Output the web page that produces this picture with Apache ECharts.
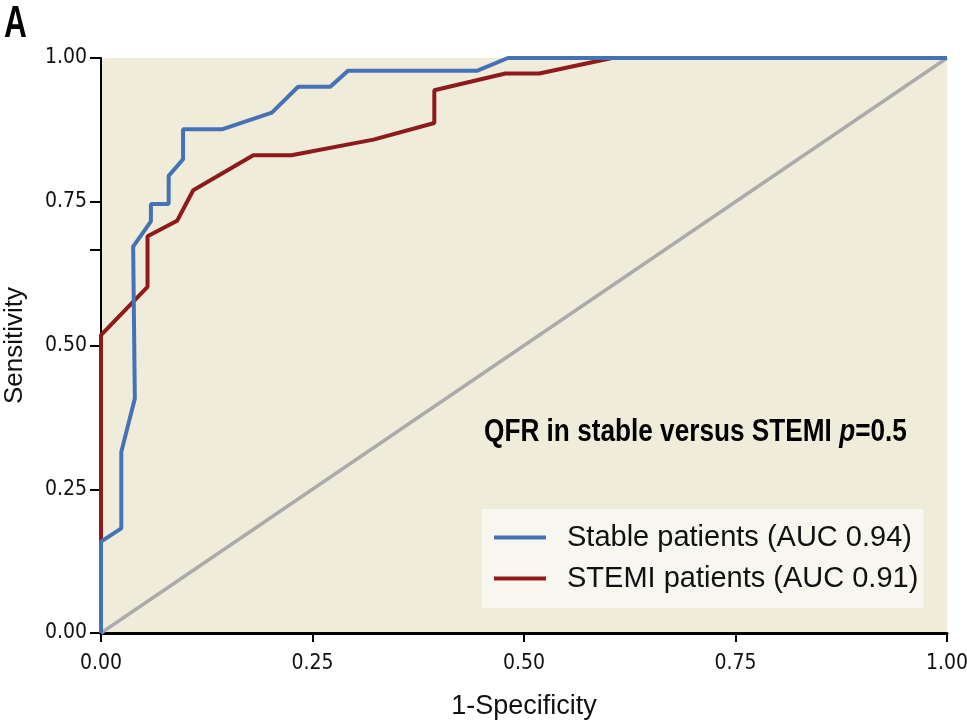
<!DOCTYPE html>
<html>
<head>
<meta charset="utf-8">
<script src="https://cdn.jsdelivr.net/npm/echarts@6/dist/echarts.min.js"></script>
<style>
html,body{margin:0;padding:0;background:#fff;}
#chart{width:967px;height:721px;}
</style>
</head>
<body>
<div id="chart"></div>
<script>
// Data
const stableX = [0, 0, 0.024, 0.024, 0.040, 0.038, 0.059, 0.059, 0.080, 0.080, 0.097, 0.097, 0.143, 0.202, 0.233, 0.271, 0.292, 0.445, 0.481, 1.0];
const stableY = [0, 0.159, 0.182, 0.315, 0.408, 0.672, 0.716, 0.746, 0.746, 0.795, 0.824, 0.876, 0.876, 0.905, 0.950, 0.950, 0.978, 0.978, 1.0, 1.0];
const stemiX = [0, 0, 0.055, 0.055, 0.090, 0.109, 0.180, 0.225, 0.322, 0.394, 0.394, 0.478, 0.518, 0.604, 1.0];
const stemiY = [0, 0.518, 0.602, 0.690, 0.717, 0.770, 0.831, 0.831, 0.858, 0.887, 0.944, 0.973, 0.973, 1.0, 1.0];
const refX = [0, 1];
const refY = [0, 1];
const xTicks = [0, 0.25, 0.5, 0.75, 1];
const yTickLabels = [0, 0.25, 0.5, 0.75, 1];
const yTicks = [0, 0.25, 0.5, 0.667, 0.75, 1];
const seriesNames = ['Stable patients (AUC 0.94)', 'STEMI patients (AUC 0.91)'];

const zip = (a, b) => a.map((v, i) => [v, b[i]]);
const condensed = '"DejaVu Sans Condensed", "Liberation Sans Narrow", sans-serif';
const regular = '"Liberation Sans", Arial, sans-serif';

const chart = echarts.init(document.getElementById('chart'));
chart.setOption({
  animation: false,
  backgroundColor: '#ffffff',
  grid: {left: 101, right: 20, top: 58, bottom: 88, show: true, backgroundColor: '#F0ECDA', borderWidth: 0,
    containLabel: false, outerBoundsMode: 'none'},
  xAxis: {
    type: 'value', min: 0, max: 1, interval: 0.25,
    name: '1-Specificity', nameLocation: 'middle', nameGap: 60,
    nameTextStyle: {fontFamily: regular, fontSize: 27, color: '#111'},
    axisLine: {show: true, lineStyle: {color: '#000', width: 3}},
    axisTick: {show: true, length: 9, lineStyle: {color: '#000', width: 2}, customValues: xTicks},
    axisLabel: {fontFamily: condensed, fontSize: 21, color: '#111', margin: 20, customValues: xTicks,
      formatter: v => v.toFixed(2)},
    splitLine: {show: false}
  },
  yAxis: {
    type: 'value', min: 0, max: 1, interval: 0.25,
    name: 'Sensitivity', nameLocation: 'middle', nameGap: 73, nameRotate: 90,
    nameTextStyle: {fontFamily: regular, fontSize: 26, color: '#111'},
    axisLine: {show: true, lineStyle: {color: '#000', width: 2}},
    axisTick: {show: true, length: 11, lineStyle: {color: '#000', width: 2}, customValues: yTicks},
    axisLabel: {fontFamily: condensed, fontSize: 21, color: '#111', margin: 14, customValues: yTickLabels,
      formatter: v => v.toFixed(2)},
    splitLine: {show: false}
  },
  legend: {
    data: seriesNames,
    orient: 'vertical',
    left: 482, top: 509,
    padding: [14, 5, 15, 12],
    itemGap: 12,
    itemWidth: 52, itemHeight: 4,
    icon: 'rect',
    backgroundColor: '#F7F6EF',
    textStyle: {fontFamily: regular, fontSize: 29, color: '#111', padding: [0, 0, 0, 16]}
  },
  graphic: [
    {type: 'text', left: 4, top: 3, scaleX: 0.72, style: {text: 'A', fontSize: 44, fontWeight: 'bold', fontFamily: regular, fill: '#000'}},
    {type: 'text', left: 484, top: 417, scaleX: 0.845, style: {
      text: '{b|QFR in stable versus STEMI }{i|p}{b|=0.5}',
      rich: {
        b: {fontSize: 31, fontWeight: 'bold', fontFamily: regular, color: '#000'},
        i: {fontSize: 31, fontWeight: 'bold', fontStyle: 'italic', fontFamily: regular, color: '#000'}
      }
    }}
  ],
  series: [
    {name: 'ref', type: 'line', data: zip(refX, refY), symbol: 'none', silent: true,
      lineStyle: {color: '#ABABAB', width: 3.5}, z: 1},
    {name: seriesNames[0], type: 'line', data: zip(stableX, stableY), symbol: 'none',
      lineStyle: {color: '#4472B5', width: 4}, itemStyle: {color: '#4472B5'}, z: 3},
    {name: seriesNames[1], type: 'line', data: zip(stemiX, stemiY), symbol: 'none',
      lineStyle: {color: '#8E1B1C', width: 4}, itemStyle: {color: '#8E1B1C'}, z: 2}
  ]
});
</script>
</body>
</html>
